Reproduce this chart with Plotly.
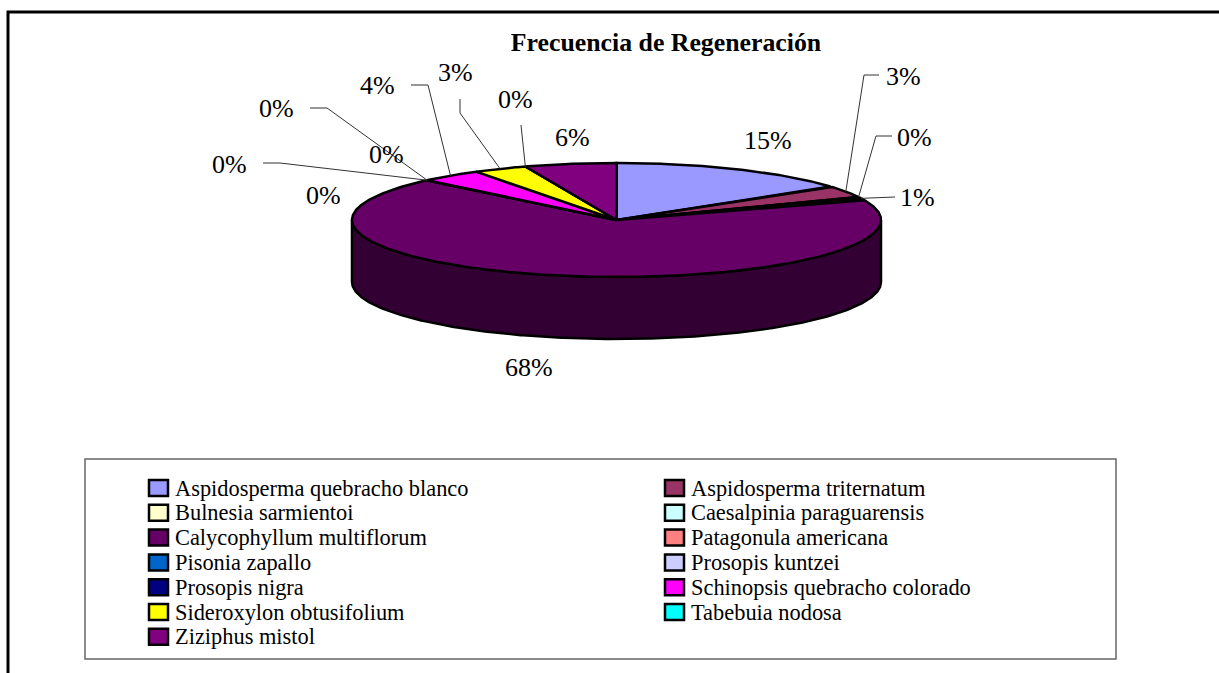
import math
import plotly.graph_objects as go

# ---------- data ----------
species = [
    "Aspidosperma quebracho blanco", "Aspidosperma triternatum", "Bulnesia sarmientoi",
    "Caesalpinia paraguarensis", "Calycophyllum multiflorum", "Patagonula americana",
    "Pisonia zapallo", "Prosopis kuntzei", "Prosopis nigra",
    "Schinopsis quebracho colorado", "Sideroxylon obtusifolium", "Tabebuia nodosa",
    "Ziziphus mistol",
]
frequency = [15.0, 3.4, 0.0, 0.8, 68.1, 0.0, 0.0, 0.0, 0.0, 3.8, 3.3, 0.0, 5.6]
colors = ["#9999FF", "#993366", "#FFFFCC", "#CCFFFF", "#660066", "#FF8080",
          "#0066CC", "#CCCCFF", "#000080", "#FF00FF", "#FFFF00", "#00FFFF", "#800080"]
title = "Frecuencia de Regeneración"

# ---------- layout constants (pixels) ----------
W, H = 1219, 673
CX, CY, RX, RY, DEPTH = 616.5, 220.0, 264.5, 57.0, 62.0
FONT = "Liberation Serif"
# label centre for each slice, then leader elbow points running from the label to the pie
label_pos = [(768, 140), (903, 76), (914, 137), (917, 197), (529, 367), (323, 195),
             (229, 164), (386, 154), (276, 108), (377, 85), (455, 72), (515, 99), (572, 137)]
leaders = {
    1: [(879, 75), (864, 75)],
    2: [(892, 136), (876, 136)],
    3: [(895, 197)],
    6: [(263, 163), (280, 163)],
    8: [(310, 108), (327, 108)],
    9: [(411, 85), (428, 85)],
    10: [(460, 99), (460, 113)],
    11: [(521, 125)],
}
LEGEND_COL_X = (148, 664)
LEGEND_Y0, LEGEND_DY = 488.0, 24.8
SWATCH_W, SWATCH_H, TEXT_GAP = 21, 18, 25


def pt(theta, dy=0.0):
    return CX + RX * math.sin(theta), CY - RY * math.cos(theta) + dy


def arc(a0, a1, dy=0.0):
    n = max(2, int(abs(a1 - a0) / 0.01))
    return [pt(a0 + (a1 - a0) * i / n, dy) for i in range(n + 1)]


def darker(c):
    return "#%02X%02X%02X" % tuple(int(c[i:i + 2], 16) // 2 for i in (1, 3, 5))


total = sum(frequency)
starts, acc = [], 0.0
for v in frequency:
    starts.append(acc / total * 2 * math.pi)
    acc += v
ends = starts[1:] + [2 * math.pi]

fig = go.Figure()

# extruded rim, visible on the front half only
for s, e, c, name in zip(starts, ends, colors, species):
    a0, a1 = max(s, math.pi / 2), min(e, 3 * math.pi / 2)
    if a1 > a0:
        pts = arc(a0, a1) + arc(a1, a0, DEPTH)
        pts.append(pts[0])
        fig.add_trace(go.Scatter(x=[p[0] for p in pts], y=[p[1] for p in pts], mode="lines",
                                 fill="toself", fillcolor=darker(c),
                                 line=dict(color="black", width=2.5), hoverinfo="skip",
                                 showlegend=False))

# top faces
for s, e, c, name in zip(starts, ends, colors, species):
    pts = [(CX, CY)] + arc(s, e) + [(CX, CY)]
    fig.add_trace(go.Scatter(x=[p[0] for p in pts], y=[p[1] for p in pts], mode="lines",
                             fill="toself", fillcolor=c, name=name,
                             line=dict(color="black", width=2.5), showlegend=False))

annotations = []
shapes = [
    dict(type="rect", x0=85, x1=1116, y0=459, y1=659, xref="x", yref="y",
         line=dict(color="#666666", width=1.5), layer="below"),
    dict(type="path", path=f"M 8 {H} L 8 12 L {W} 12", xref="x", yref="y",
         line=dict(color="black", width=3), layer="below"),
]

# leader lines and percentage labels
for i, (v, s, e) in enumerate(zip(frequency, starts, ends)):
    if i in leaders:
        pts = leaders[i] + [pt((s + e) / 2)]
        fig.add_trace(go.Scatter(x=[p[0] for p in pts], y=[p[1] for p in pts], mode="lines",
                                 line=dict(color="#333333", width=1), hoverinfo="skip",
                                 showlegend=False))
    lx, ly = label_pos[i]
    annotations.append(dict(x=lx, y=ly, xref="x", yref="y", text=f"{round(v / total * 100)}%",
                            showarrow=False, xanchor="center", yanchor="middle",
                            font=dict(family=FONT, size=26, color="black")))

# legend (two columns, filled row by row)
for i, (name, c) in enumerate(zip(species, colors)):
    lx = LEGEND_COL_X[i % 2]
    ly = LEGEND_Y0 + (i // 2) * LEGEND_DY
    shapes.append(dict(type="rect", xref="x", yref="y", x0=lx + 1, x1=lx + SWATCH_W - 1,
                       y0=ly - SWATCH_H / 2 + 1, y1=ly + SWATCH_H / 2 - 1, fillcolor=c,
                       line=dict(color="black", width=2.5)))
    annotations.append(dict(x=lx + TEXT_GAP, y=ly, xref="x", yref="y", text=name, showarrow=False,
                            xanchor="left", yanchor="middle",
                            font=dict(family=FONT, size=22.4, color="black")))

fig.update_layout(
    width=W, height=H, margin=dict(l=0, r=0, t=0, b=0), autosize=False,
    paper_bgcolor="white", plot_bgcolor="white", showlegend=False,
    title=dict(text=title, x=666 / W, xanchor="center", y=1 - 42 / H, yanchor="middle",
               font=dict(family=FONT, size=25.8, color="black", weight="bold")),
    xaxis=dict(range=[0, W], visible=False, fixedrange=True),
    yaxis=dict(range=[H, 0], visible=False, fixedrange=True),
    annotations=annotations, shapes=shapes,
)
fig.write_html("out.html", config={"displayModeBar": False},
               post_script="document.body.style.margin='0';document.body.style.overflow='hidden';")
